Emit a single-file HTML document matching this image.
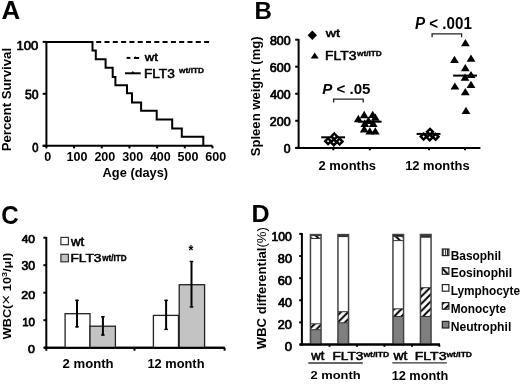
<!DOCTYPE html>
<html><head><meta charset="utf-8"><title>Figure</title>
<style>html,body{margin:0;padding:0;background:#fff;}svg{display:block;filter:grayscale(1) blur(0.3px);}</style></head>
<body><svg width="520" height="384" viewBox="0 0 520 384" font-family="Liberation Sans, sans-serif" fill="#000">
<defs>
<pattern id="hfw" patternUnits="userSpaceOnUse" x="5" y="0" width="7.2" height="7.2"><rect width="7.2" height="7.2" fill="#fff"/><path d="M-1 8.2 L8.2 -1 M-1 1 L1 -1 M6.2 8.2 L8.2 6.2" stroke="#000" stroke-width="2"/></pattern>
<pattern id="hbk" patternUnits="userSpaceOnUse" x="1" y="0" width="7.2" height="7.2"><rect width="7.2" height="7.2" fill="#fff"/><path d="M-1 -1 L8.2 8.2 M-1 6.2 L1 8.2 M6.2 -1 L8.2 1" stroke="#000" stroke-width="2"/></pattern>
<pattern id="vln" patternUnits="userSpaceOnUse" x="0.5" width="2.2" height="4"><rect width="2.2" height="4" fill="#fff"/><rect x="0" width="1.1" height="4" fill="#222"/></pattern>
</defs>
<line x1="46.4" y1="41.0" x2="46.4" y2="146.8" stroke="#000" stroke-width="2" />
<line x1="42.7" y1="41.9" x2="46.4" y2="41.9" stroke="#000" stroke-width="2" />
<line x1="42.7" y1="93.8" x2="46.4" y2="93.8" stroke="#000" stroke-width="2" />
<line x1="42.7" y1="145.8" x2="46.4" y2="145.8" stroke="#000" stroke-width="2" />
<line x1="42.7" y1="145.8" x2="212.6" y2="145.8" stroke="#000" stroke-width="2" />
<line x1="46.4" y1="145.8" x2="46.4" y2="148.4" stroke="#000" stroke-width="2" />
<line x1="74.08" y1="145.8" x2="74.08" y2="148.4" stroke="#000" stroke-width="2" />
<line x1="101.75999999999999" y1="145.8" x2="101.75999999999999" y2="148.4" stroke="#000" stroke-width="2" />
<line x1="129.44" y1="145.8" x2="129.44" y2="148.4" stroke="#000" stroke-width="2" />
<line x1="157.12" y1="145.8" x2="157.12" y2="148.4" stroke="#000" stroke-width="2" />
<line x1="184.8" y1="145.8" x2="184.8" y2="148.4" stroke="#000" stroke-width="2" />
<line x1="212.48" y1="145.8" x2="212.48" y2="148.4" stroke="#000" stroke-width="2" />
<line x1="46.4" y1="41.9" x2="209.6" y2="41.9" stroke="#000" stroke-width="2" stroke-dasharray="5 3.3"/>
<path d="M46.4 41.9 H92.5 V50.5 H95.8 V59.3 H105.6 V67.7 H112.7 V77 H115.4 V85.2 H127 V93.3 H132 V102.5 H141.1 V110.7 H156.7 V119.6 H172.2 V128.4 H181.8 V136.7 H203.3 V145.8" stroke="#000" stroke-width="2" fill="none" stroke-linejoin="miter"/>
<line x1="126.6" y1="57.9" x2="130.4" y2="57.9" stroke="#000" stroke-width="2" />
<line x1="133.9" y1="58.0" x2="139.1" y2="58.0" stroke="#000" stroke-width="2" />
<path d="M134.2 57.5 L135.4 56.3 L136.6 57.5 Z" fill="#000"/>
<line x1="125.0" y1="73.3" x2="140.7" y2="73.3" stroke="#000" stroke-width="2" />
<path d="M131.4 73 L132.9 71.0 L134.4 73 Z" fill="#000"/>
<line x1="298.6" y1="39.0" x2="298.6" y2="148.9" stroke="#000" stroke-width="2" />
<line x1="295.2" y1="147.8" x2="298.6" y2="147.8" stroke="#000" stroke-width="2" />
<line x1="295.2" y1="120.77000000000001" x2="298.6" y2="120.77000000000001" stroke="#000" stroke-width="2" />
<line x1="295.2" y1="93.74000000000001" x2="298.6" y2="93.74000000000001" stroke="#000" stroke-width="2" />
<line x1="295.2" y1="66.71000000000001" x2="298.6" y2="66.71000000000001" stroke="#000" stroke-width="2" />
<line x1="295.2" y1="39.68000000000001" x2="298.6" y2="39.68000000000001" stroke="#000" stroke-width="2" />
<line x1="295.3" y1="147.9" x2="480.4" y2="147.9" stroke="#000" stroke-width="2" />
<line x1="333.3" y1="147.9" x2="333.3" y2="150.3" stroke="#000" stroke-width="2" />
<line x1="369.8" y1="147.9" x2="369.8" y2="150.3" stroke="#000" stroke-width="2" />
<line x1="429.0" y1="147.9" x2="429.0" y2="150.3" stroke="#000" stroke-width="2" />
<line x1="465.0" y1="147.9" x2="465.0" y2="150.3" stroke="#000" stroke-width="2" />
<path d="M312.3 30.599999999999998 L317.0 35.3 L312.3 40.0 L307.6 35.3 Z" fill="#000" stroke="none" stroke-width="1.7" stroke-linejoin="miter"/>
<path d="M314.7 52.4 L318.7 58.6 L310.7 58.6 Z" fill="#000"/>
<path d="M333.6 102.6 V99.2 H363.2 V102.6" stroke="#222" stroke-width="1.3" fill="none" />
<path d="M432.1 37.2 V33.9 H461.6 V37.2" stroke="#222" stroke-width="1.3" fill="none" />
<line x1="321.2" y1="137.3" x2="345.0" y2="137.3" stroke="#000" stroke-width="2" />
<path d="M328.1 138.29999999999998 L331.0 141.2 L328.1 144.1 L325.20000000000005 141.2 Z" fill="#fff" stroke="#000" stroke-width="2.4" stroke-linejoin="miter"/>
<path d="M339.6 138.7 L342.5 141.6 L339.6 144.5 L336.70000000000005 141.6 Z" fill="#fff" stroke="#000" stroke-width="2.4" stroke-linejoin="miter"/>
<path d="M333.8 139.4 L336.7 142.3 L333.8 145.20000000000002 L330.90000000000003 142.3 Z" fill="#fff" stroke="#000" stroke-width="2.4" stroke-linejoin="miter"/>
<path d="M334.3 133.5 L337.2 136.4 L334.3 139.3 L331.40000000000003 136.4 Z" fill="#fff" stroke="#000" stroke-width="2.4" stroke-linejoin="miter"/>
<line x1="416.6" y1="133.9" x2="440.5" y2="133.9" stroke="#000" stroke-width="2" />
<path d="M423.6 133.7 L426.5 136.6 L423.6 139.5 L420.70000000000005 136.6 Z" fill="#fff" stroke="#000" stroke-width="2.4" stroke-linejoin="miter"/>
<path d="M435.6 133.9 L438.5 136.8 L435.6 139.70000000000002 L432.70000000000005 136.8 Z" fill="#fff" stroke="#000" stroke-width="2.4" stroke-linejoin="miter"/>
<path d="M429.7 134.5 L432.59999999999997 137.4 L429.7 140.3 L426.8 137.4 Z" fill="#fff" stroke="#000" stroke-width="2.4" stroke-linejoin="miter"/>
<path d="M430.0 128.9 L432.9 131.8 L430.0 134.70000000000002 L427.1 131.8 Z" fill="#fff" stroke="#000" stroke-width="2.4" stroke-linejoin="miter"/>
<path d="M364.2 110.8 L368.59999999999997 118.2 L359.8 118.2 Z" fill="#000"/>
<path d="M372.7 110.7 L377.09999999999997 118.10000000000001 L368.3 118.10000000000001 Z" fill="#000"/>
<path d="M358.3 114.8 L362.7 122.2 L353.90000000000003 122.2 Z" fill="#000"/>
<path d="M375.3 113.4 L379.7 120.80000000000001 L370.90000000000003 120.80000000000001 Z" fill="#000"/>
<path d="M368.5 116.5 L372.9 123.9 L364.1 123.9 Z" fill="#000"/>
<path d="M364.8 119.6 L369.2 127.0 L360.40000000000003 127.0 Z" fill="#000"/>
<path d="M373.2 119.6 L377.59999999999997 127.0 L368.8 127.0 Z" fill="#000"/>
<path d="M364.2 125.2 L368.59999999999997 132.6 L359.8 132.6 Z" fill="#000"/>
<path d="M369.8 127.2 L374.2 134.6 L365.40000000000003 134.6 Z" fill="#000"/>
<path d="M375.3 127.2 L379.7 134.6 L370.90000000000003 134.6 Z" fill="#000"/>
<line x1="357.8" y1="121.7" x2="381.6" y2="121.7" stroke="#000" stroke-width="2" />
<path d="M465.4 39.1 L469.79999999999995 46.300000000000004 L461.0 46.300000000000004 Z" fill="#000"/>
<path d="M454.5 55.8 L458.9 63.0 L450.1 63.0 Z" fill="#000"/>
<path d="M471.0 54.5 L475.4 61.7 L466.6 61.7 Z" fill="#000"/>
<path d="M465.3 64.0 L469.7 71.2 L460.90000000000003 71.2 Z" fill="#000"/>
<path d="M471.0 70.9 L475.4 78.10000000000001 L466.6 78.10000000000001 Z" fill="#000"/>
<path d="M465.0 73.5 L469.4 80.7 L460.6 80.7 Z" fill="#000"/>
<path d="M454.9 82.4 L459.29999999999995 89.60000000000001 L450.5 89.60000000000001 Z" fill="#000"/>
<path d="M471.0 80.8 L475.4 88.0 L466.6 88.0 Z" fill="#000"/>
<path d="M465.3 88.1 L469.7 95.3 L460.90000000000003 95.3 Z" fill="#000"/>
<path d="M466.0 106.7 L470.4 113.9 L461.6 113.9 Z" fill="#000"/>
<line x1="453.1" y1="75.6" x2="477.0" y2="75.6" stroke="#000" stroke-width="2" />
<line x1="46.3" y1="237.0" x2="46.3" y2="348.5" stroke="#000" stroke-width="2" />
<line x1="43.4" y1="347.7" x2="46.3" y2="347.7" stroke="#000" stroke-width="2" />
<line x1="43.4" y1="320.2" x2="46.3" y2="320.2" stroke="#000" stroke-width="2" />
<line x1="43.4" y1="292.7" x2="46.3" y2="292.7" stroke="#000" stroke-width="2" />
<line x1="43.4" y1="265.2" x2="46.3" y2="265.2" stroke="#000" stroke-width="2" />
<line x1="43.4" y1="237.7" x2="46.3" y2="237.7" stroke="#000" stroke-width="2" />
<line x1="44.2" y1="347.7" x2="224.6" y2="347.7" stroke="#000" stroke-width="2" />
<line x1="134.5" y1="347.7" x2="134.5" y2="350.7" stroke="#000" stroke-width="2" />
<line x1="224.6" y1="347.7" x2="224.6" y2="350.7" stroke="#000" stroke-width="2" />
<line x1="46.3" y1="347.7" x2="46.3" y2="350.7" stroke="#000" stroke-width="2" />
<rect x="65.1" y="313.7" width="24.9" height="34.0" fill="#fff" stroke="#222" stroke-width="1.3" />
<rect x="90.0" y="326.2" width="25.4" height="21.5" fill="#c3c3c3" stroke="#222" stroke-width="1.3" />
<rect x="153.4" y="315.4" width="25.1" height="32.3" fill="#fff" stroke="#222" stroke-width="1.3" />
<rect x="179.2" y="284.7" width="25.4" height="63.0" fill="#c3c3c3" stroke="#222" stroke-width="1.3" />
<line x1="44.2" y1="347.7" x2="224.6" y2="347.7" stroke="#000" stroke-width="2" />
<line x1="77.0" y1="299.8" x2="77.0" y2="327.4" stroke="#000" stroke-width="2" />
<line x1="75.2" y1="300.40000000000003" x2="78.8" y2="300.40000000000003" stroke="#000" stroke-width="1.4" />
<line x1="75.2" y1="326.79999999999995" x2="78.8" y2="326.79999999999995" stroke="#000" stroke-width="1.4" />
<line x1="102.9" y1="316.2" x2="102.9" y2="335.6" stroke="#000" stroke-width="2" />
<line x1="101.10000000000001" y1="316.8" x2="104.7" y2="316.8" stroke="#000" stroke-width="1.4" />
<line x1="101.10000000000001" y1="335.0" x2="104.7" y2="335.0" stroke="#000" stroke-width="1.4" />
<line x1="166.1" y1="299.8" x2="166.1" y2="330.0" stroke="#000" stroke-width="2" />
<line x1="164.29999999999998" y1="300.40000000000003" x2="167.9" y2="300.40000000000003" stroke="#000" stroke-width="1.4" />
<line x1="164.29999999999998" y1="329.4" x2="167.9" y2="329.4" stroke="#000" stroke-width="1.4" />
<line x1="191.5" y1="260.9" x2="191.5" y2="307.5" stroke="#000" stroke-width="2" />
<line x1="189.7" y1="261.5" x2="193.3" y2="261.5" stroke="#000" stroke-width="1.4" />
<line x1="189.7" y1="306.9" x2="193.3" y2="306.9" stroke="#000" stroke-width="1.4" />
<rect x="60.9" y="237.4" width="7.5" height="7.3" fill="#fff" stroke="#333" stroke-width="1.2" />
<rect x="60.9" y="254.3" width="7.5" height="7.5" fill="#c3c3c3" stroke="#333" stroke-width="1.2" />
<line x1="301.9" y1="233.0" x2="301.9" y2="345.5" stroke="#000" stroke-width="2" />
<line x1="299.2" y1="344.5" x2="301.9" y2="344.5" stroke="#000" stroke-width="2" />
<line x1="299.2" y1="322.38" x2="301.9" y2="322.38" stroke="#000" stroke-width="2" />
<line x1="299.2" y1="300.26" x2="301.9" y2="300.26" stroke="#000" stroke-width="2" />
<line x1="299.2" y1="278.14" x2="301.9" y2="278.14" stroke="#000" stroke-width="2" />
<line x1="299.2" y1="256.02" x2="301.9" y2="256.02" stroke="#000" stroke-width="2" />
<line x1="299.2" y1="233.89999999999998" x2="301.9" y2="233.89999999999998" stroke="#000" stroke-width="2" />
<line x1="299.9" y1="344.6" x2="440.0" y2="344.6" stroke="#000" stroke-width="2" />
<line x1="329.5" y1="344.6" x2="329.5" y2="346.8" stroke="#000" stroke-width="2" />
<line x1="357.0" y1="344.6" x2="357.0" y2="346.8" stroke="#000" stroke-width="2" />
<line x1="384.5" y1="344.6" x2="384.5" y2="346.8" stroke="#000" stroke-width="2" />
<line x1="412.0" y1="344.6" x2="412.0" y2="346.8" stroke="#000" stroke-width="2" />
<line x1="439.3" y1="344.6" x2="439.3" y2="346.8" stroke="#000" stroke-width="2" />
<rect x="310.45" y="329.7" width="10.6" height="14.800000000000011" fill="#7f7f7f" stroke="none" stroke-width="1" />
<rect x="310.45" y="323.8" width="10.6" height="5.899999999999977" fill="url(#hfw)" stroke="none" stroke-width="1" />
<rect x="310.45" y="238.5" width="10.6" height="85.30000000000001" fill="#fff" stroke="none" stroke-width="1" />
<rect x="310.45" y="235.6" width="10.6" height="2.9000000000000057" fill="url(#hbk)" stroke="none" stroke-width="1" />
<rect x="310.45" y="234.6" width="10.6" height="1.0" fill="url(#vln)" stroke="none" stroke-width="1" />
<line x1="310.45" y1="329.7" x2="321.05" y2="329.7" stroke="#333" stroke-width="1.0" />
<line x1="310.45" y1="323.8" x2="321.05" y2="323.8" stroke="#333" stroke-width="1.0" />
<line x1="310.45" y1="238.5" x2="321.05" y2="238.5" stroke="#333" stroke-width="1.0" />
<line x1="310.45" y1="235.6" x2="321.05" y2="235.6" stroke="#333" stroke-width="1.0" />
<line x1="310.45" y1="234.6" x2="321.05" y2="234.6" stroke="#333" stroke-width="1.0" />
<rect x="310.45" y="234.6" width="10.6" height="109.9" fill="none" stroke="#444" stroke-width="1.5" />
<rect x="337.95" y="322.8" width="10.6" height="21.69999999999999" fill="#7f7f7f" stroke="none" stroke-width="1" />
<rect x="337.95" y="311.7" width="10.6" height="11.100000000000023" fill="url(#hfw)" stroke="none" stroke-width="1" />
<rect x="337.95" y="236.6" width="10.6" height="75.1" fill="#fff" stroke="none" stroke-width="1" />
<rect x="337.95" y="235.5" width="10.6" height="1.0999999999999943" fill="#111" stroke="none" stroke-width="1" />
<rect x="337.95" y="234.6" width="10.6" height="0.9000000000000057" fill="#111" stroke="none" stroke-width="1" />
<line x1="337.95" y1="322.8" x2="348.55" y2="322.8" stroke="#333" stroke-width="1.0" />
<line x1="337.95" y1="311.7" x2="348.55" y2="311.7" stroke="#333" stroke-width="1.0" />
<line x1="337.95" y1="236.6" x2="348.55" y2="236.6" stroke="#333" stroke-width="1.0" />
<line x1="337.95" y1="235.5" x2="348.55" y2="235.5" stroke="#333" stroke-width="1.0" />
<line x1="337.95" y1="234.6" x2="348.55" y2="234.6" stroke="#333" stroke-width="1.0" />
<rect x="337.95" y="234.6" width="10.6" height="109.9" fill="none" stroke="#444" stroke-width="1.5" />
<rect x="392.95" y="316.5" width="10.6" height="28.0" fill="#7f7f7f" stroke="none" stroke-width="1" />
<rect x="392.95" y="308.8" width="10.6" height="7.699999999999989" fill="url(#hfw)" stroke="none" stroke-width="1" />
<rect x="392.95" y="240.6" width="10.6" height="68.20000000000002" fill="#fff" stroke="none" stroke-width="1" />
<rect x="392.95" y="236.3" width="10.6" height="4.299999999999983" fill="url(#hbk)" stroke="none" stroke-width="1" />
<rect x="392.95" y="234.5" width="10.6" height="1.8000000000000114" fill="#111" stroke="none" stroke-width="1" />
<line x1="392.95" y1="316.5" x2="403.55" y2="316.5" stroke="#333" stroke-width="1.0" />
<line x1="392.95" y1="308.8" x2="403.55" y2="308.8" stroke="#333" stroke-width="1.0" />
<line x1="392.95" y1="240.6" x2="403.55" y2="240.6" stroke="#333" stroke-width="1.0" />
<line x1="392.95" y1="236.3" x2="403.55" y2="236.3" stroke="#333" stroke-width="1.0" />
<line x1="392.95" y1="234.5" x2="403.55" y2="234.5" stroke="#333" stroke-width="1.0" />
<rect x="392.95" y="234.5" width="10.6" height="110.0" fill="none" stroke="#444" stroke-width="1.5" />
<rect x="420.45" y="316.5" width="10.6" height="28.0" fill="#7f7f7f" stroke="none" stroke-width="1" />
<rect x="420.45" y="287.7" width="10.6" height="28.80000000000001" fill="url(#hfw)" stroke="none" stroke-width="1" />
<rect x="420.45" y="237.2" width="10.6" height="50.5" fill="#fff" stroke="none" stroke-width="1" />
<rect x="420.45" y="235.6" width="10.6" height="1.5999999999999943" fill="#333" stroke="none" stroke-width="1" />
<rect x="420.45" y="234.5" width="10.6" height="1.0999999999999943" fill="#111" stroke="none" stroke-width="1" />
<line x1="420.45" y1="316.5" x2="431.05" y2="316.5" stroke="#333" stroke-width="1.0" />
<line x1="420.45" y1="287.7" x2="431.05" y2="287.7" stroke="#333" stroke-width="1.0" />
<line x1="420.45" y1="237.2" x2="431.05" y2="237.2" stroke="#333" stroke-width="1.0" />
<line x1="420.45" y1="235.6" x2="431.05" y2="235.6" stroke="#333" stroke-width="1.0" />
<line x1="420.45" y1="234.5" x2="431.05" y2="234.5" stroke="#333" stroke-width="1.0" />
<rect x="420.45" y="234.5" width="10.6" height="110.0" fill="none" stroke="#444" stroke-width="1.5" />
<line x1="299.9" y1="344.6" x2="440.0" y2="344.6" stroke="#000" stroke-width="2" />
<rect x="442.3" y="249.0" width="6.6" height="6.6" fill="url(#vln)" stroke="#222" stroke-width="1.2" />
<rect x="442.3" y="267.7" width="6.6" height="6.6" fill="url(#hbk)" stroke="#222" stroke-width="1.2" />
<rect x="442.3" y="284.6" width="6.6" height="6.6" fill="#fff" stroke="#222" stroke-width="1.2" />
<rect x="442.3" y="302.6" width="6.6" height="6.6" fill="url(#hfw)" stroke="#222" stroke-width="1.2" />
<rect x="442.3" y="321.4" width="6.6" height="6.6" fill="#7f7f7f" stroke="#222" stroke-width="1.2" />
<line x1="308.3" y1="363.0" x2="362.8" y2="363.0" stroke="#333" stroke-width="1.3" />
<line x1="392.3" y1="362.8" x2="446.9" y2="362.8" stroke="#333" stroke-width="1.3" />
<text transform="translate(1.423,19.366) scale(0.25909,0.26618)" font-size="100" font-weight="bold">A</text>
<text transform="translate(144.800,61.183) scale(0.13131,0.11692)" font-size="100" stroke="#000" stroke-width="4.84" stroke-linejoin="round">wt</text>
<text transform="translate(143.903,77.975) scale(0.13709,0.12535)" font-size="100" stroke="#000" stroke-width="4.58" stroke-linejoin="round">FLT3</text>
<text transform="translate(179.075,73.349) scale(0.08361,0.07635)" font-size="100" font-weight="bold" stroke="#000" stroke-width="4.38" stroke-linejoin="round">wt/ITD</text>
<text transform="translate(16.530,50.398) scale(0.13065,0.12746)" font-size="100" stroke="#000" stroke-width="5.81" stroke-linejoin="round">100</text>
<text transform="translate(24.988,99.398) scale(0.12184,0.12746)" font-size="100" stroke="#000" stroke-width="6.02" stroke-linejoin="round">50</text>
<text transform="translate(32.129,151.902) scale(0.11146,0.12324)" font-size="100" stroke="#000" stroke-width="6.40" stroke-linejoin="round">0</text>
<text transform="translate(44.194,161.270) scale(0.12569,0.12958)" font-size="100" font-weight="bold">0</text>
<text transform="translate(66.479,161.270) scale(0.12569,0.12958)" font-size="100" font-weight="bold">100</text>
<text transform="translate(94.388,161.270) scale(0.12569,0.12958)" font-size="100" font-weight="bold">200</text>
<text transform="translate(122.171,161.270) scale(0.12569,0.12958)" font-size="100" font-weight="bold">300</text>
<text transform="translate(149.891,161.270) scale(0.12569,0.12958)" font-size="100" font-weight="bold">400</text>
<text transform="translate(177.548,161.270) scale(0.12569,0.12958)" font-size="100" font-weight="bold">500</text>
<text transform="translate(205.205,161.270) scale(0.12569,0.12958)" font-size="100" font-weight="bold">600</text>
<text transform="translate(102.615,177.374) scale(0.12823,0.12979)" font-size="100" font-weight="bold">Age (days)</text>
<text transform="translate(11.276,151.325) rotate(-90) scale(0.13208,0.12432)" font-size="100" font-weight="bold">Percent Survival</text>
<text transform="translate(254.413,18.900) scale(0.24098,0.24638)" font-size="100" font-weight="bold">B</text>
<text transform="translate(283.788,152.806) scale(0.12187,0.11901)" font-size="100" stroke="#000" stroke-width="6.23" stroke-linejoin="round">0</text>
<text transform="translate(269.750,125.776) scale(0.12500,0.11901)" font-size="100" stroke="#000" stroke-width="6.15" stroke-linejoin="round">200</text>
<text transform="translate(270.130,98.746) scale(0.12267,0.11901)" font-size="100" stroke="#000" stroke-width="6.21" stroke-linejoin="round">400</text>
<text transform="translate(269.750,71.716) scale(0.12500,0.11901)" font-size="100" stroke="#000" stroke-width="6.15" stroke-linejoin="round">600</text>
<text transform="translate(269.878,44.686) scale(0.12421,0.11901)" font-size="100" stroke="#000" stroke-width="6.17" stroke-linejoin="round">800</text>
<text transform="translate(259.909,156.293) rotate(-90) scale(0.13091,0.12340)" font-size="100" font-weight="bold">Spleen weight (mg)</text>
<text transform="translate(325.800,37.283) scale(0.14242,0.11692)" font-size="100" stroke="#000" stroke-width="4.65" stroke-linejoin="round">wt</text>
<text transform="translate(325.088,59.972) scale(0.13897,0.12817)" font-size="100" stroke="#000" stroke-width="4.50" stroke-linejoin="round">FLT3</text>
<text transform="translate(356.975,56.249) scale(0.08294,0.07635)" font-size="100" font-weight="bold" stroke="#000" stroke-width="4.40" stroke-linejoin="round">wt/ITD</text>
<text transform="translate(322.198,94.445) scale(0.15111,0.15493)" font-size="100" font-weight="bold"><tspan font-style="italic">P</tspan> &lt; .05</text>
<text transform="translate(414.896,29.142) scale(0.15175,0.15775)" font-size="100" font-weight="bold"><tspan font-style="italic">P</tspan> &lt; .001</text>
<text transform="translate(318.511,169.573) scale(0.12952,0.12703)" font-size="100" font-weight="bold">2 months</text>
<text transform="translate(405.126,169.781) scale(0.12898,0.11892)" font-size="100" font-weight="bold">12 months</text>
<text transform="translate(1.134,224.145) scale(0.24154,0.25493)" font-size="100" font-weight="bold">C</text>
<text transform="translate(28.079,353.313) scale(0.12396,0.11197)" font-size="100" stroke="#000" stroke-width="6.37" stroke-linejoin="round">0</text>
<text transform="translate(22.150,325.807) scale(0.11566,0.11761)" font-size="100" stroke="#000" stroke-width="6.43" stroke-linejoin="round">10</text>
<text transform="translate(21.255,298.610) scale(0.12402,0.11479)" font-size="100" stroke="#000" stroke-width="6.29" stroke-linejoin="round">20</text>
<text transform="translate(21.384,270.206) scale(0.12282,0.11901)" font-size="100" stroke="#000" stroke-width="6.20" stroke-linejoin="round">30</text>
<text transform="translate(21.736,243.009) scale(0.11952,0.11620)" font-size="100" stroke="#000" stroke-width="6.36" stroke-linejoin="round">40</text>
<text transform="translate(11.102,339.200) rotate(-90) scale(0.12696,0.10943)" font-size="100" font-weight="bold">WBC(<tspan font-weight="normal" font-size="135">×</tspan> 10<tspan font-size="72" dy="-34">3</tspan><tspan dy="34">/μl)</tspan></text>
<text transform="translate(71.000,246.278) scale(0.13333,0.12154)" font-size="100" stroke="#000" stroke-width="4.71" stroke-linejoin="round">wt</text>
<text transform="translate(70.503,262.485) scale(0.13709,0.11549)" font-size="100" stroke="#000" stroke-width="4.77" stroke-linejoin="round">FLT3</text>
<text transform="translate(102.175,260.643) scale(0.08125,0.08176)" font-size="100" font-weight="bold" stroke="#000" stroke-width="4.29" stroke-linejoin="round">wt/ITD</text>
<text transform="translate(188.400,254.543) scale(0.12564,0.15135)" font-size="100" font-weight="bold">*</text>
<text transform="translate(62.505,367.965) scale(0.13158,0.13514)" font-size="100" font-weight="bold">2 month</text>
<text transform="translate(147.429,367.965) scale(0.12847,0.13514)" font-size="100" font-weight="bold">12 month</text>
<text transform="translate(251.444,222.000) scale(0.25082,0.24783)" font-size="100" font-weight="bold">D</text>
<text transform="translate(284.654,351.006) scale(0.13021,0.11901)" font-size="100" stroke="#000" stroke-width="6.02" stroke-linejoin="round">0</text>
<text transform="translate(277.735,329.006) scale(0.12794,0.11901)" font-size="100" stroke="#000" stroke-width="6.08" stroke-linejoin="round">20</text>
<text transform="translate(278.126,307.006) scale(0.12429,0.11901)" font-size="100" stroke="#000" stroke-width="6.17" stroke-linejoin="round">40</text>
<text transform="translate(277.735,285.006) scale(0.12794,0.11901)" font-size="100" stroke="#000" stroke-width="6.08" stroke-linejoin="round">60</text>
<text transform="translate(277.868,263.006) scale(0.12670,0.11901)" font-size="100" stroke="#000" stroke-width="6.11" stroke-linejoin="round">80</text>
<text transform="translate(271.602,241.006) scale(0.12161,0.11901)" font-size="100" stroke="#000" stroke-width="6.23" stroke-linejoin="round">100</text>
<text transform="translate(266.297,349.200) rotate(-90) scale(0.13074,0.12872)" font-size="100" font-weight="bold">WBC differential<tspan font-weight="normal">(%)</tspan></text>
<text transform="translate(450.664,259.700) scale(0.11936,0.12055)" font-size="100" font-weight="bold">Basophil</text>
<text transform="translate(450.659,277.450) scale(0.12012,0.12055)" font-size="100" font-weight="bold">Eosinophil</text>
<text transform="translate(450.670,295.200) scale(0.11861,0.12055)" font-size="100" font-weight="bold">Lymphocyte</text>
<text transform="translate(450.668,312.950) scale(0.11886,0.12754)" font-size="100" font-weight="bold">Monocyte</text>
<text transform="translate(450.650,330.700) scale(0.12140,0.12055)" font-size="100" font-weight="bold">Neutrophil</text>
<text transform="translate(311.200,360.480) scale(0.13131,0.12000)" font-size="100" stroke="#000" stroke-width="4.78" stroke-linejoin="round">wt</text>
<text transform="translate(332.403,360.486) scale(0.13709,0.11408)" font-size="100" stroke="#000" stroke-width="4.80" stroke-linejoin="round">FLT3</text>
<text transform="translate(363.375,357.057) scale(0.08632,0.06824)" font-size="100" font-weight="bold" stroke="#000" stroke-width="4.56" stroke-linejoin="round">wt/ITD</text>
<text transform="translate(393.500,360.480) scale(0.13939,0.12000)" font-size="100" stroke="#000" stroke-width="4.64" stroke-linejoin="round">wt</text>
<text transform="translate(414.673,360.283) scale(0.14085,0.11690)" font-size="100" stroke="#000" stroke-width="4.68" stroke-linejoin="round">FLT3</text>
<text transform="translate(446.475,357.150) scale(0.08530,0.07500)" font-size="100" font-weight="bold" stroke="#000" stroke-width="4.38" stroke-linejoin="round">wt/ITD</text>
<text transform="translate(310.513,379.184) scale(0.12895,0.11622)" font-size="100" font-weight="bold">2 month</text>
<text transform="translate(391.633,379.577) scale(0.12778,0.12297)" font-size="100" font-weight="bold">12 month</text>
</svg></body></html>
